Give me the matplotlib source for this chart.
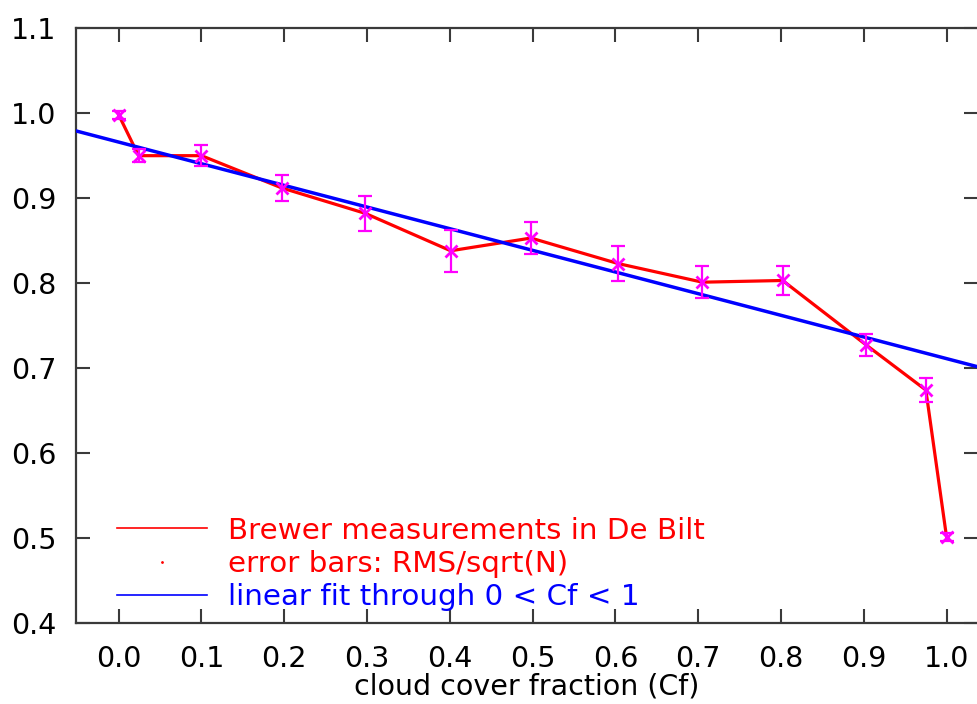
import matplotlib
matplotlib.use("Agg")
import matplotlib.pyplot as plt
from matplotlib.lines import Line2D
import numpy as np

# Data
cloud_fraction = [0.0, 0.024, 0.1, 0.197, 0.298, 0.401, 0.498, 0.603, 0.705, 0.802, 0.903, 0.975, 1.0]
ratio = [0.998, 0.950, 0.950, 0.912, 0.882, 0.838, 0.853, 0.823, 0.801, 0.803, 0.727, 0.674, 0.501]
error = [0.005, 0.008, 0.012, 0.015, 0.021, 0.025, 0.019, 0.021, 0.019, 0.017, 0.013, 0.014, 0.005]
fit_intercept = 0.966
fit_slope = -0.255

xticks = [0.0, 0.1, 0.2, 0.3, 0.4, 0.5, 0.6, 0.7, 0.8, 0.9, 1.0]
yticks = [0.4, 0.5, 0.6, 0.7, 0.8, 0.9, 1.0, 1.1]
labels = ["Brewer measurements in De Bilt", "error bars: RMS/sqrt(N)", "linear fit through 0 < Cf < 1"]
xlabel = "cloud cover fraction (Cf)"

plt.rcParams['font.family'] = ['DejaVu Sans']
FS = 20.5
LFS = 21.2

fig = plt.figure(figsize=(9.78, 7.04), dpi=100)
W, H = 978, 704
left, right, top, bottom = 76, 978, 28.3, 622.7
ax = fig.add_axes([left / W, (H - bottom) / H, (right - left) / W, (bottom - top) / H])

xmin, xmax = -0.0516, 1.038
ax.set_xlim(xmin, xmax)
ax.set_ylim(0.4, 1.1)

ax.plot(cloud_fraction, ratio, color='#ff0000', lw=2.3, zorder=2)
xx = np.array([xmin, xmax])
ax.plot(xx, fit_intercept + fit_slope * xx, color='#0000ff', lw=2.5, zorder=3)
ax.errorbar(cloud_fraction, ratio, yerr=error, fmt='none', ecolor='#ff00ff',
            elinewidth=1.6, capsize=5, capthick=1.6, zorder=4)
ax.plot(cloud_fraction, ratio, linestyle='none', marker='x', color='#ff00ff',
        ms=9, mew=2, zorder=5)

ax.set_xticks(xticks)
ax.set_yticks(yticks)
ax.set_xticklabels([f"{v:.1f}" for v in xticks])
ax.set_yticklabels([f"{v:.1f}" for v in yticks])
spine_col = '#3a3a3a'
ax.tick_params(direction='in', length=10, width=1.5, color=spine_col,
               labelsize=FS, top=True, right=True)
ax.tick_params(axis='x', pad=16)
ax.tick_params(axis='y', pad=14)
for s in ['left', 'bottom', 'top']:
    ax.spines[s].set_color(spine_col)
    ax.spines[s].set_linewidth(1.6)
ax.spines['right'].set_visible(False)

ax.set_xlabel(xlabel, fontsize=FS, labelpad=0)

handles = [Line2D([], [], color='#ff0000', lw=1.2),
           Line2D([], [], color='#ff0000', marker='.', ms=2, linestyle='none'),
           Line2D([], [], color='#0000ff', lw=1.2)]
leg = ax.legend(handles, labels, loc='lower left', bbox_to_anchor=(0.045, 0.02),
                frameon=False, fontsize=LFS, handlelength=3.06, handletextpad=0.72,
                labelspacing=0.17, borderpad=0, borderaxespad=0,
                labelcolor=['#ff0000', '#ff0000', '#0000ff'])

fig.savefig("out.png", dpi=100)
